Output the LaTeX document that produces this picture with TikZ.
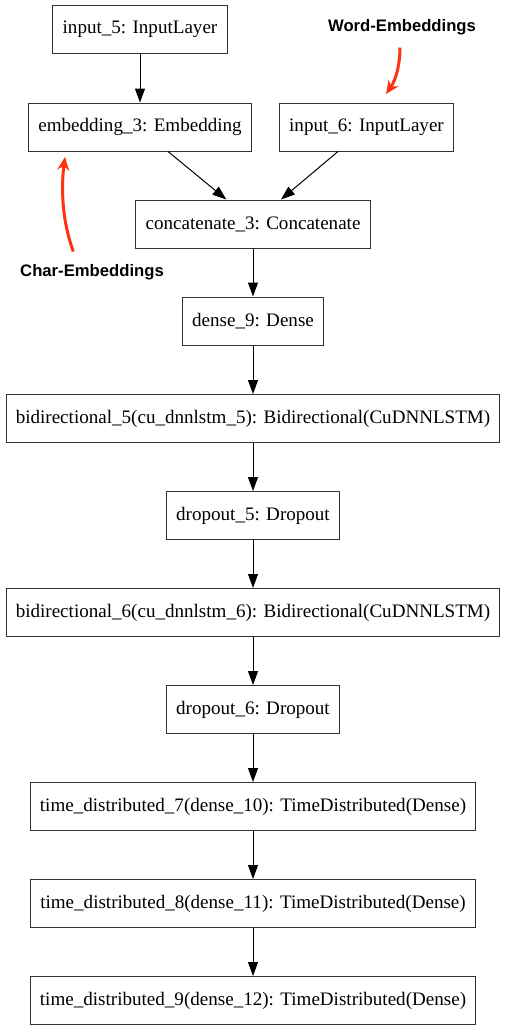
\documentclass[tikz,border=0pt]{standalone}
\usepackage{fontspec}
\setmainfont{Liberation Serif}
\newfontfamily\notefont{Liberation Sans}
\usetikzlibrary{arrows.meta}
\definecolor{notered}{HTML}{FF3311}

\begin{document}
\begin{tikzpicture}[x=0.75pt,y=-0.75pt]
            \tikzset{layer/.style = {shape=rectangle, draw=black!80, line width=0.75pt, minimum height=36pt, inner xsep=7.3pt, font=\fontsize{14.3}{16}\selectfont}}
            \tikzset{edge/.style = {draw=black, line width=0.75pt, -{Triangle[length=10.5pt,width=7.5pt]}}}
            \tikzset{note/.style = {font=\notefont\bfseries\fontsize{12.5}{14}\selectfont}}
            \tikzset{pointer/.style = {draw=notered, line width=2.25pt, -{Stealth[length=10pt,width=9pt]}}}
            \useasboundingbox (0,0) rectangle (507,1033);
            % layers
            \node[layer] (in5) at (140,29.5) {input\_5: InputLayer};
            \node[layer] (emb3) at (140,127) {embedding\_3: Embedding};
            \node[layer] (in6) at (366.5,127) {input\_6: InputLayer};
            \node[layer] (cat3) at (253,224) {concatenate\_3: Concatenate};
            \node[layer] (dns9) at (253,321) {dense\_9: Dense};
            \node[layer] (bi5) at (253,418.5) {bidirectional\_5(cu\_dnnlstm\_5): Bidirectional(CuDNNLSTM)};
            \node[layer] (dr5) at (253,515.5) {dropout\_5: Dropout};
            \node[layer] (bi6) at (253,612.5) {bidirectional\_6(cu\_dnnlstm\_6): Bidirectional(CuDNNLSTM)};
            \node[layer] (dr6) at (253,709.5) {dropout\_6: Dropout};
            \node[layer] (td7) at (253,806.5) {time\_distributed\_7(dense\_10): TimeDistributed(Dense)};
            \node[layer] (td8) at (253,903.5) {time\_distributed\_8(dense\_11): TimeDistributed(Dense)};
            \node[layer] (td9) at (253,1000.5) {time\_distributed\_9(dense\_12): TimeDistributed(Dense)};
            % notes
            \node[note] (word) at (402,27) {Word-Embeddings};
            \node[note] (char) at (92,272) {Char-Embeddings};
            \coordinate (wordtip) at (386,94);
            \coordinate (chartip) at (65,157);
            % edges
            \draw[edge] (in5) to (emb3);
            \draw[edge] ([xshift=21pt]emb3.south) to ([xshift=-20pt]cat3.north);
            \draw[edge] ([xshift=-21.4pt]in6.south) to ([xshift=21pt]cat3.north);
            \draw[edge] (cat3) to (dns9);
            \draw[edge] (dns9) to (bi5);
            \draw[edge] (bi5) to (dr5);
            \draw[edge] (dr5) to (bi6);
            \draw[edge] (bi6) to (dr6);
            \draw[edge] (dr6) to (td7);
            \draw[edge] (td7) to (td8);
            \draw[edge] (td8) to (td9);
            % pointers
            \draw[pointer] ([xshift=-1.5pt,yshift=-6pt]word.south) .. controls (400,62) and (397,78) .. (wordtip);
            \draw[pointer] ([xshift=-14pt,yshift=6pt]char.north) .. controls (60,215) and (62,180) .. (chartip);
        \end{tikzpicture}
\end{document}
